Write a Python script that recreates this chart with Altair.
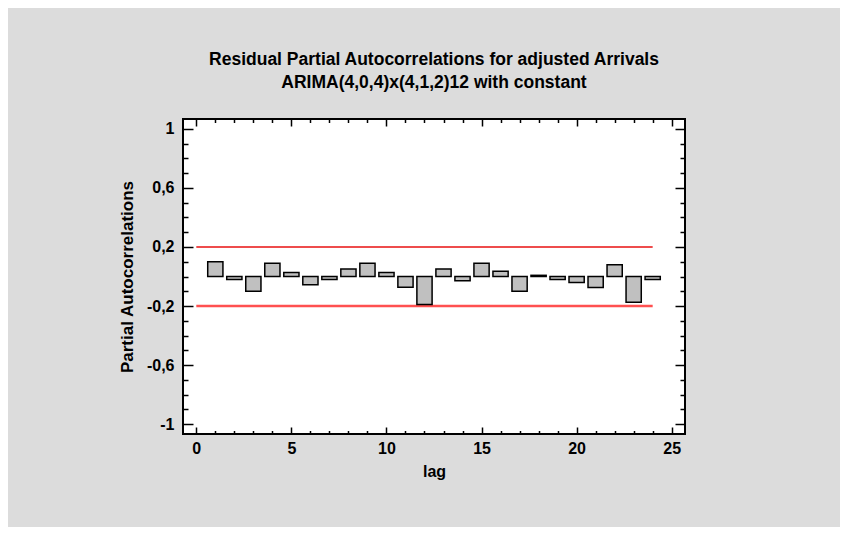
import altair as alt
import pandas as pd

# ---- data ----
lags = list(range(1, 25))
pacf = [0.10, -0.02, -0.10, 0.09, 0.027, -0.055, -0.02, 0.05, 0.09, 0.027, -0.073, -0.19,
        0.05, -0.028, 0.09, 0.035, -0.10, 0.008, -0.02, -0.04, -0.075, 0.08, -0.175, -0.02]

limit_start = [0]
limit_end = [24]
limit_upper = [0.2]
limit_lower = [-0.2]

x_major = [0, 5, 10, 15, 20, 25]
x_minor = [1, 2, 3, 4, 6, 7, 8, 9, 11, 12, 13, 14, 16, 17, 18, 19, 21, 22, 23, 24]
y_major = [-1, -0.6, -0.2, 0.2, 0.6, 1]
y_minor = [-0.9, -0.8, -0.7, -0.5, -0.4, -0.3, -0.1, 0, 0.1, 0.3, 0.4, 0.5, 0.7, 0.8, 0.9]

title_lines = ["Residual Partial Autocorrelations for adjusted Arrivals",
               "ARIMA(4,0,4)x(4,1,2)12 with constant"]
x_title = "lag"
y_title = "Partial Autocorrelations"

bars = pd.DataFrame({"lag": lags, "pacf": pacf})
upper = pd.DataFrame({"start": limit_start, "end": limit_end, "y": limit_upper})
lower = pd.DataFrame({"start": limit_start, "end": limit_end, "y": limit_lower})

FONT = "Liberation Sans"

xs = alt.Scale(domain=[-0.7, 25.7], nice=False, zero=False)
ys = alt.Scale(domain=[-1.066, 1.066], nice=False, zero=False)

common = dict(domain=False, grid=False, tickColor="black", tickWidth=1.5,
              labelFont=FONT, labelFontSize=16, labelFontWeight="bold", labelColor="black",
              titleFont=FONT, titleFontWeight="bold", titleColor="black")

y_label_expr = "(datum.value < 0 ? '-' : '') + replace(format(abs(datum.value), '.1~f'), '.', ',')"

ax_x_bottom_major = alt.Axis(orient="bottom", values=x_major, tickSize=7, offset=-7,
                             labelPadding=6, format="d", title=x_title, titlePadding=7,
                             titleFontSize=16, **common)
ax_x_bottom_minor = alt.Axis(orient="bottom", values=x_minor, tickSize=3.5, offset=-3.5,
                             labels=False, title=None, **common)
ax_x_top_major = alt.Axis(orient="top", values=x_major, tickSize=7, offset=-7,
                          labels=False, title=None, **common)
ax_x_top_minor = alt.Axis(orient="top", values=x_minor, tickSize=3.5, offset=-3.5,
                          labels=False, title=None, **common)

ax_y_left_major = alt.Axis(orient="left", values=y_major, tickSize=10, offset=-10,
                           labelPadding=9, labelExpr=y_label_expr, title=y_title,
                           titlePadding=10, titleFontSize=17, **common)
ax_y_left_minor = alt.Axis(orient="left", values=y_minor, tickSize=5, offset=-5,
                           labels=False, title=None, **common)
ax_y_right_major = alt.Axis(orient="right", values=y_major, tickSize=10, offset=-10,
                            labels=False, title=None, **common)
ax_y_right_minor = alt.Axis(orient="right", values=y_minor, tickSize=5, offset=-5,
                            labels=False, title=None, **common)

base_bars = alt.Chart(bars).transform_calculate(
    lo="datum.lag - 0.4", hi="datum.lag + 0.4", base="0"
)

bar_fill = base_bars.mark_bar(color="#c0c0c0", strokeWidth=0).encode(
    x=alt.X("lo:Q", scale=xs, axis=ax_x_bottom_major),
    x2="hi:Q",
    y=alt.Y("pacf:Q", scale=ys, axis=ax_y_left_major),
    y2="base:Q",
)

upper_line = alt.Chart(upper).mark_rule(color="#e81010", strokeWidth=1.5).encode(
    x=alt.X("start:Q", scale=xs, axis=ax_x_bottom_minor),
    x2="end:Q",
    y=alt.Y("y:Q", scale=ys, axis=ax_y_left_minor),
)

lower_line = alt.Chart(lower).mark_rule(color="#ff5050", strokeWidth=2.5).encode(
    x=alt.X("start:Q", scale=xs, axis=ax_x_top_major),
    x2="end:Q",
    y=alt.Y("y:Q", scale=ys, axis=ax_y_right_major),
)

bar_outline = base_bars.mark_bar(filled=False, color="black", strokeWidth=1.5).encode(
    x=alt.X("lo:Q", scale=xs, axis=ax_x_top_minor),
    x2="hi:Q",
    y=alt.Y("pacf:Q", scale=ys, axis=ax_y_right_minor),
    y2="base:Q",
)

chart = alt.layer(bar_fill, upper_line, lower_line, bar_outline).resolve_scale(
    x="independent", y="independent"
).properties(
    width=502,
    height=315,
    background="#dcdcdc",
    padding={"left": 175, "top": 111, "right": 155, "bottom": 93},
    autosize=alt.AutoSizeParams(type="none"),
    title=alt.TitleParams(text=title_lines, font=FONT, fontSize=17.5, fontWeight="bold",
                          color="black", anchor="middle", frame="group", offset=27,
                          lineHeight=23),
).configure_view(stroke="black", strokeWidth=2, fill="white")

chart.save("out.html", embed_options={"renderer": "svg", "actions": False})
